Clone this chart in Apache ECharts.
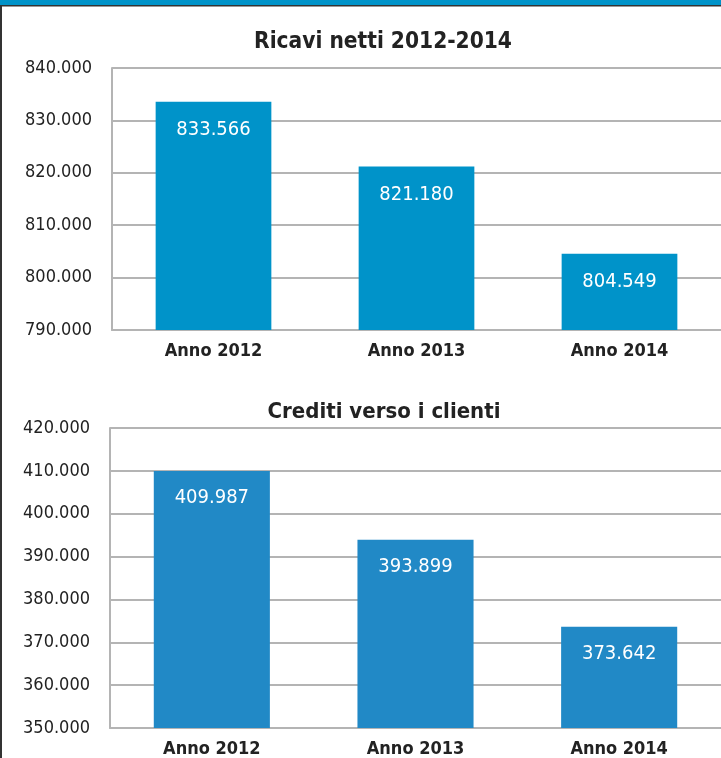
<!DOCTYPE html>
<html><head><meta charset="utf-8">
<script src="https://cdn.jsdelivr.net/npm/echarts@6/dist/echarts.min.js"></script>
<style>html,body{margin:0;padding:0;background:#fff}#c{width:721px;height:758px}</style>
</head><body><div id="c"></div>
<script>
const categories = ['Anno 2012', 'Anno 2013', 'Anno 2014'];
const titleTop = 'Ricavi netti 2012-2014';
const titleBottom = 'Crediti verso i clienti';
const ricavi = [833566, 821180, 804549];
const crediti = [409987, 393899, 373642];
const topAxis = { min: 790000, max: 840000, interval: 10000 };
const bottomAxis = { min: 350000, max: 420000, interval: 10000 };

const FONT = 'DejaVu Sans Condensed';
const fmt = v => String(Math.round(v)).replace(/\B(?=(\d{3})+(?!\d))/g, '.');
const chart = echarts.init(document.getElementById('c'));
const gridLine = { lineStyle: { color: '#b4b4b4', width: 2 } };
function yAxis(idx, ax) {
  return { type: 'value', gridIndex: idx, min: ax.min, max: ax.max, interval: ax.interval,
    axisLine: { show: true, lineStyle: { color: '#b4b4b4', width: 2 } }, axisTick: { show: false },
    splitLine: { show: true, lineStyle: gridLine.lineStyle },
    axisLabel: { formatter: fmt, fontFamily: FONT, fontSize: 18, color: '#222', margin: 20 } };
}
function xAxis(idx, margin) {
  return { type: 'category', gridIndex: idx, data: categories,
    axisLine: { show: true, lineStyle: { color: '#b4b4b4', width: 2 } }, axisTick: { show: false },
    axisLabel: { fontFamily: FONT, fontWeight: 'bold', fontSize: 18, color: '#222', margin: margin } };
}
function series(idx, data, color, dist) {
  return { type: 'bar', xAxisIndex: idx, yAxisIndex: idx, data: data, barCategoryGap: '43%',
    itemStyle: { color: color },
    label: { show: true, position: 'insideTop', distance: dist, formatter: p => fmt(p.value),
      fontFamily: FONT, fontSize: 20, color: '#fff' } };
}
chart.setOption({
  animation: false,
  backgroundColor: '#fff',
  title: [
    { text: titleTop, left: 378, top: 26, textAlign: 'center',
      textStyle: { fontFamily: FONT, fontWeight: 'bold', fontSize: 22.5, color: '#222' } },
    { text: titleBottom, left: 379, top: 396, textAlign: 'center',
      textStyle: { fontFamily: FONT, fontWeight: 'bold', fontSize: 22, color: '#222' } }
  ],
  grid: [
    { left: 112, top: 68, width: 609, height: 262 },
    { left: 110, top: 428, width: 611, height: 303 }
  ],
  xAxis: [xAxis(0, 12), xAxis(1, 12)],
  yAxis: [yAxis(0, topAxis), yAxis(1, bottomAxis)],
  series: [series(0, ricavi, '#0093c9', 18), series(1, crediti, '#2189c6', 17)],
  graphic: [
    { type: 'rect', shape: { x: 0, y: 0, width: 721, height: 5 }, style: { fill: '#0093c9' } },
    { type: 'rect', shape: { x: 0, y: 5, width: 721, height: 1.5 }, style: { fill: '#333' } },
    { type: 'rect', shape: { x: 0, y: 5, width: 2, height: 753 }, style: { fill: '#333' } }
  ]
});
</script></body></html>
